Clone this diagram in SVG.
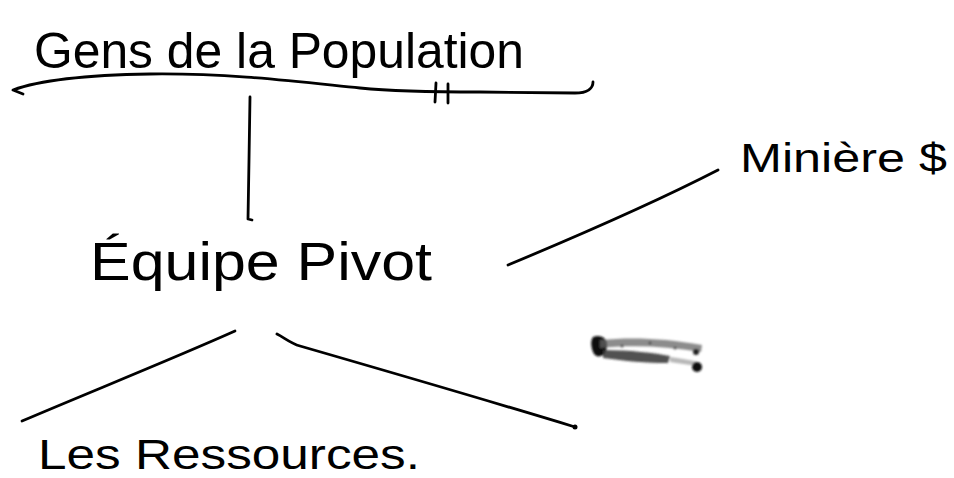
<svg xmlns="http://www.w3.org/2000/svg" width="954" height="478" viewBox="0 0 954 478">
  <style>
    .hand { font-family: "Liberation Sans", "DejaVu Sans", sans-serif; fill: #000; }
    .ink { fill: none; stroke: #000; stroke-width: 2.8; stroke-linecap: round; stroke-linejoin: round; }
  </style>
  <defs>
    <filter id="blur" x="-20%" y="-50%" width="140%" height="200%">
      <feGaussianBlur stdDeviation="1.2"/>
    </filter>
  </defs>
  <rect width="954" height="478" fill="#fff"/>

  <g id="connectors">
    <path class="ink" d="M23,94 L13,90 C40,80 90,75 150,74 C230,73 300,82 360,88 C400,92 440,92 480,92 L575,93 C588,93 593,88 593,82"/>
    <path class="ink" d="M436,83 L435,102 M448,84 L448,103"/>
    <path class="ink" d="M250,97 L249,160 L248,219 L252,220"/>
    <path class="ink" d="M235,331 C170,360 90,392 22,421"/>
    <path class="ink" d="M277,334 C285,338 290,343 300,346 C390,372 480,398 575,427"/>
    <circle cx="575" cy="427" r="2.5" fill="#000"/>
    <path class="ink" d="M508,265 C580,235 650,205 718,170"/>
  </g>

  <g id="n-population">
    <text class="hand" x="34" y="68" font-size="50" textLength="490" lengthAdjust="spacingAndGlyphs">Gens de la Population</text>
  </g>
  <g id="n-equipe">
    <text class="hand" x="90" y="280" font-size="54" textLength="342" lengthAdjust="spacingAndGlyphs">Équipe Pivot</text>
  </g>
  <g id="n-miniere">
    <text class="hand" x="740" y="172" font-size="40" textLength="207" lengthAdjust="spacingAndGlyphs">Minière $</text>
  </g>
  <g id="n-ressources">
    <text class="hand" x="38" y="469" font-size="42" textLength="382" lengthAdjust="spacingAndGlyphs">Les Ressources.</text>
  </g>

  <g id="smudge" filter="url(#blur)">
    <path d="M593,337 C600,334 608,338 607,346 C606,356 598,359 594,354 C591,348 590,341 593,337 Z" fill="#111"/>
    <path d="M600,340 C630,337 665,338 702,345 L701,352 C665,346 630,345 600,348 Z" fill="#666" opacity="0.75"/>
    <path d="M603,350 C630,350 655,353 670,356 L668,363 C645,363 625,361 603,358 Z" fill="#333" opacity="0.85"/>
    <path d="M670,357 C680,358 690,360 698,362 L697,366 C688,365 678,363 670,362 Z" fill="#888" opacity="0.6"/>
    <circle cx="697" cy="367" r="5" fill="#111"/>
    <circle cx="696" cy="352" r="3" fill="#222"/>
    <circle cx="622" cy="346" r="1.5" fill="#555"/>
    <circle cx="650" cy="343" r="1.5" fill="#555"/>
    <circle cx="675" cy="348" r="1.5" fill="#555"/>
  </g>
</svg>
